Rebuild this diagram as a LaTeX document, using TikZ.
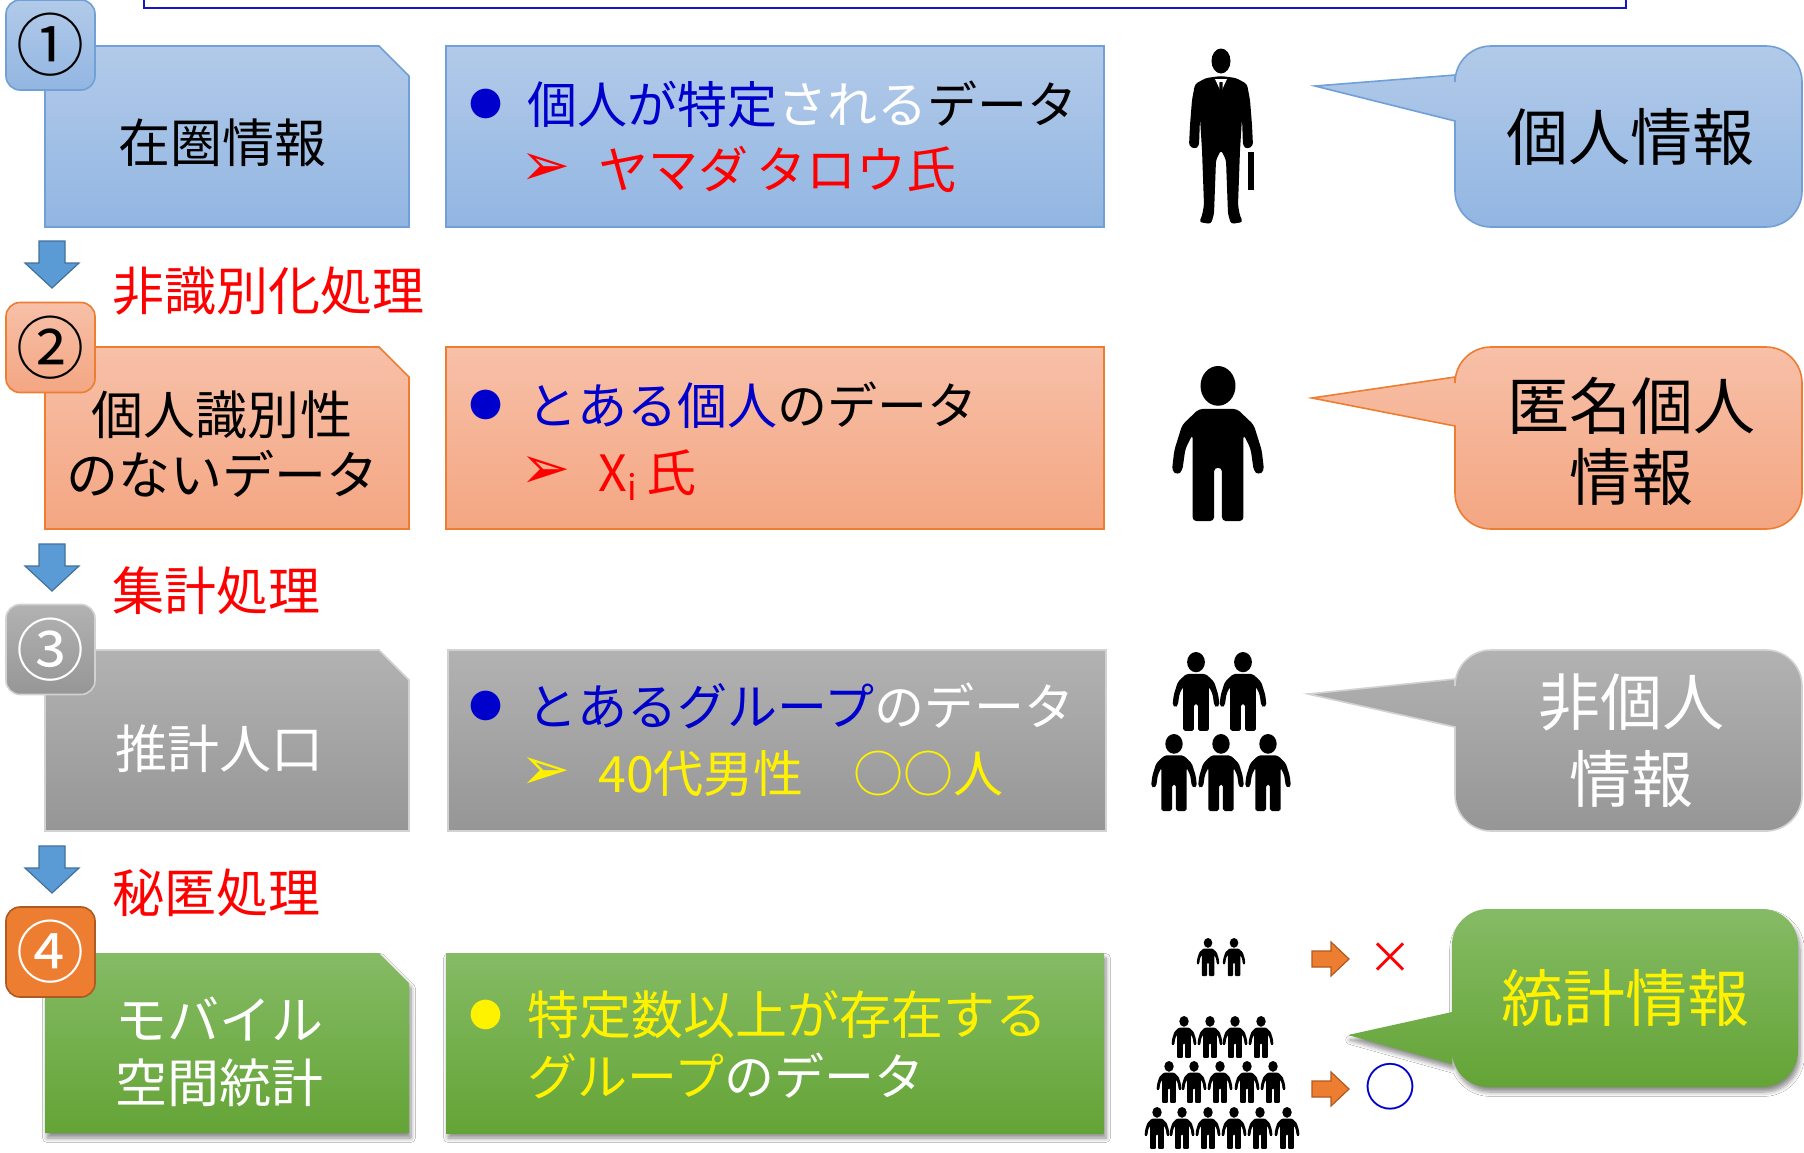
\documentclass[tikz,border=0pt]{standalone}
\usepackage{fontspec}
\setmainfont{Noto Sans CJK JP}
\newfontfamily\dingfont{DejaVu Sans}
\usetikzlibrary{shadows.blur}

\definecolor{blueTop}{RGB}{178,202,233}
\definecolor{blueBot}{RGB}{146,182,226}
\definecolor{blueEdge}{RGB}{112,160,214}
\definecolor{salmonTop}{RGB}{247,192,168}
\definecolor{salmonBot}{RGB}{244,166,130}
\definecolor{salmonEdge}{RGB}{237,125,49}
\definecolor{grayTop}{RGB}{178,178,178}
\definecolor{grayBot}{RGB}{150,150,150}
\definecolor{grayEdge}{RGB}{210,210,210}
\definecolor{greenTop}{RGB}{133,187,101}
\definecolor{greenBot}{RGB}{100,164,54}
\definecolor{badgeOrange}{RGB}{237,125,49}
\definecolor{badgeOrangeEdge}{RGB}{174,90,33}
\definecolor{arrowBlue}{RGB}{91,155,213}
\definecolor{arrowBlueEdge}{RGB}{65,113,156}
\definecolor{textBlue}{RGB}{0,0,204}
\definecolor{frameBlue}{RGB}{20,20,200}

\tikzset{
  stage1/.style={top color=blueTop, bottom color=blueBot, draw=blueEdge, line width=0.8pt},
  stage2/.style={top color=salmonTop, bottom color=salmonBot, draw=salmonEdge, line width=0.8pt},
  stage3/.style={top color=grayTop, bottom color=grayBot, draw=grayEdge, line width=0.8pt},
  stage4/.style={top color=greenTop, bottom color=greenBot,
    blur shadow={shadow xshift=1pt, shadow yshift=-2.5pt, shadow blur steps=6, shadow opacity=45}},
  badge/.style={rounded corners=7pt, minimum width=44.5pt, minimum height=45pt,
    inner sep=0pt, font=\fontsize{34pt}{34pt}\selectfont},
  boxtext/.style={font=\fontsize{26pt}{30pt}\selectfont, align=center, inner sep=0pt},
  rowtext/.style={font=\fontsize{25pt}{30pt}\selectfont, anchor=base west, inner sep=0pt},
  steptext/.style={font=\fontsize{26pt}{30pt}\selectfont, text=red, anchor=base west, inner sep=0pt},
  calltext/.style={font=\fontsize{31pt}{35pt}\selectfont, align=center, inner sep=0pt},
  bulletmark/.style={font=\fontsize{16.5pt}{16.5pt}\selectfont, inner sep=0pt},
  arrowmark/.style={font=\dingfont\fontsize{30pt}{30pt}\selectfont, inner sep=0pt},
  flowarrow/.style={fill=arrowBlue, draw=arrowBlueEdge, line width=0.6pt},
  sidearrow/.style={fill=badgeOrange, draw=badgeOrangeEdge, line width=0.6pt},
}

% box with the top right corner cut off
\newcommand\snipbox[5]{\path[#5] (#1,#2) -- ({#3-30},#2) -- (#3,{#2+30}) -- (#3,#4) -- (#1,#4) -- cycle;}
% rounded box with a pointer on its left side
\newcommand\callout[9]{\path[#9] (#1,{#2+36}) arc[start angle=180,end angle=270,radius=36]
  -- ({#3-36},#2) arc[start angle=270,end angle=360,radius=36]
  -- (#3,{#4-36}) arc[start angle=0,end angle=90,radius=36]
  -- ({#1+36},#4) arc[start angle=90,end angle=180,radius=36]
  -- (#1,#6) -- (#7,#8) -- (#1,#5) -- cycle;}
\newcommand\personicon[3]{%
  \begin{scope}[shift={(#1,#2)}, scale=#3]
    \fill (0,1.25) ellipse [x radius=1.1, y radius=1.25];
    \fill[rounded corners=#3*0.12pt] (0,2.7) -- (1.2,2.7) -- (2.25,3.7) -- (2.75,5.3) -- (2.9,6.6)
      -- (2.55,6.85) -- (2.25,6.6) -- (2.05,5.2) -- (1.6,4.3) -- (1.6,9.75) -- (0.25,9.75)
      -- (0.25,6.4) -- (-0.25,6.4) -- (-0.25,9.75) -- (-1.6,9.75) -- (-1.6,4.3) -- (-2.05,5.2)
      -- (-2.25,6.6) -- (-2.55,6.85) -- (-2.9,6.6) -- (-2.75,5.3) -- (-2.25,3.7) -- (-1.2,2.7) -- cycle;
  \end{scope}}
\newcommand\flowdown[2]{\path[flowarrow] ({#1-13},#2) -- ({#1+13},#2) -- ({#1+13},{#2+22})
  -- ({#1+27},{#2+22}) -- (#1,{#2+47}) -- ({#1-27},{#2+22}) -- ({#1-13},{#2+22}) -- cycle;}
\newcommand\flowright[2]{\path[sidearrow] (#1,{#2-8}) -- ({#1+19},{#2-8}) -- ({#1+19},{#2-17})
  -- ({#1+37},#2) -- ({#1+19},{#2+17}) -- ({#1+19},{#2+8}) -- (#1,{#2+8}) -- cycle;}

\begin{document}
\begin{tikzpicture}[x=0.5pt,y=-0.5pt]
\useasboundingbox (0,0) rectangle (1804,1152);
\fill[white] (0,0) rectangle (1804,1152);
\draw[frameBlue, line width=1.2pt] (144,-20) rectangle (1626,8);

\snipbox{45}{46}{409}{227}{stage1}
\snipbox{45}{347}{409}{529}{stage2}
\snipbox{45}{650}{409}{831}{stage3}
\snipbox{45}{953}{409}{1133}{stage4}

\path[stage1] (446,46) rectangle (1104,227);
\path[stage2] (446,347) rectangle (1104,529);
\path[stage3] (448,650) rectangle (1106,831);
\path[stage4] (446,953) rectangle (1104,1133);

\callout{1455}{46}{1802}{227}{75}{121}{1315}{86}{stage1}
\callout{1455}{347}{1802}{529}{377}{426}{1312}{398}{stage2}
\callout{1455}{650}{1802}{831}{679}{727}{1308}{694}{stage3}
\callout{1452}{909}{1798}{1087}{1012}{1064}{1348}{1035}{stage4}

\node[badge, stage1] (n1) at (50.5,45) {①};
\node[badge, stage2] (n2) at (50.5,347.5) {②};
\node[badge, stage3, text=white] (n3) at (50.5,649.5) {③};
\node[badge, fill=badgeOrange, draw=badgeOrangeEdge, line width=0.8pt, text=white] (n4) at (50.5,952) {④};

\node[boxtext] (s1) at (222,143) {在圏情報};
\node[boxtext] (s2) at (222,444) {個人識別性\\のないデータ};
\node[boxtext, text=white] (s3) at (219,749) {推計人口};
\node[boxtext, text=white, font=\fontsize{26pt}{31.5pt}\selectfont] (s4) at (219,1052) {モバイル\\空間統計};

\flowdown{52}{241}
\flowdown{52}{544}
\flowdown{52}{846}
\node[steptext] (p1) at (112,310) {非識別化処理};
\node[steptext] (p2) at (112,610) {集計処理};
\node[steptext] (p3) at (112,912) {秘匿処理};

\node[bulletmark, text=textBlue] (d1) at (486,104) {●};
\node[rowtext] (t1) at (527,123) {\textcolor{textBlue}{個人が特定}\textcolor{white}{される}データ};
\node[arrowmark, text=red] (m1) at (546,169) {➢};
\node[rowtext, text=red] (u1) at (598,188) {ヤマダ\,タロウ氏};

\node[bulletmark, text=textBlue] (d2) at (486,405) {●};
\node[rowtext] (t2) at (527,424) {\textcolor{textBlue}{とある個人}のデータ};
\node[arrowmark, text=red] (m2) at (546,472) {➢};
\node[rowtext, text=red] (u2) at (598,491) {X\textsubscript{i}\,氏};

\node[bulletmark, text=textBlue] (d3) at (486,706) {●};
\node[rowtext] (t3) at (527,725) {\textcolor{textBlue}{とあるグループ}\textcolor{white}{のデータ}};
\node[arrowmark, text=yellow] (m3) at (546,773) {➢};
\node[rowtext, text=yellow] (u3) at (598,792) {40代男性　○○人};

\node[bulletmark, text=yellow] (d4) at (486,1015) {●};
\node[rowtext, text=yellow, font=\fontsize{26pt}{30pt}\selectfont] (t4) at (527,1034) {特定数以上が存在する};
\node[rowtext] (t5) at (527,1095) {\textcolor{yellow}{グループ}\textcolor{white}{のデータ}};

\node[calltext] (c1) at (1630,137) {個人情報};
\node[calltext, font=\fontsize{31pt}{35.5pt}\selectfont] (c2) at (1631,441) {匿名個人\\情報};
\node[calltext, text=white, font=\fontsize{31pt}{38.5pt}\selectfont] (c3) at (1631,741) {非個人\\情報};
\node[calltext, text=yellow] (c4) at (1625,998) {統計情報};

% businessman
\fill (1221,61) ellipse [x radius=9.5, y radius=12.5];
\fill[rounded corners=1.5pt] (1221,76) -- (1236,78) -- (1247,84) -- (1250,100) -- (1252,125) -- (1253,146)
  -- (1247,149) -- (1243,146) -- (1242,118) -- (1240,150) -- (1238,205) -- (1240,216) -- (1243,222)
  -- (1231,224) -- (1228,214) -- (1226,160) -- (1221,150) -- (1216,160) -- (1214,214) -- (1211,224)
  -- (1199,222) -- (1202,216) -- (1204,205) -- (1202,150) -- (1200,118) -- (1199,146) -- (1195,149)
  -- (1189,146) -- (1190,125) -- (1192,100) -- (1195,84) -- (1206,78) -- cycle;
\fill[white] (1215,79) -- (1221,92) -- (1227,79) -- cycle;
\fill (1219.5,82) -- (1222.5,82) -- (1223,100) -- (1221,104) -- (1219,100) -- cycle;
\fill (1248,152) rectangle (1254,190);

\personicon{1218}{366}{15.9}

\personicon{1196}{652}{8.1}
\personicon{1243}{652}{8.1}
\personicon{1174}{734}{7.9}
\personicon{1221}{734}{7.9}
\personicon{1268}{734}{7.9}

\personicon{1208}{938}{3.9}
\personicon{1234}{938}{3.9}

\personicon{1184}{1016}{4.3}
\personicon{1210}{1016}{4.3}
\personicon{1235}{1016}{4.3}
\personicon{1261}{1016}{4.3}
\personicon{1169}{1061}{4.3}
\personicon{1194}{1061}{4.3}
\personicon{1220}{1061}{4.3}
\personicon{1247}{1061}{4.3}
\personicon{1273}{1061}{4.3}
\personicon{1157}{1107}{4.3}
\personicon{1182}{1107}{4.3}
\personicon{1208}{1107}{4.3}
\personicon{1234}{1107}{4.3}
\personicon{1260}{1107}{4.3}
\personicon{1287}{1107}{4.3}

\flowright{1312}{959}
\flowright{1312}{1089}
\node[text=red, font=\fontsize{22pt}{22pt}\selectfont] (no) at (1390,958) {×};
\node[text=textBlue, font=\fontsize{26pt}{26pt}\selectfont] (ok) at (1390,1087) {○};
\end{tikzpicture}
\end{document}
